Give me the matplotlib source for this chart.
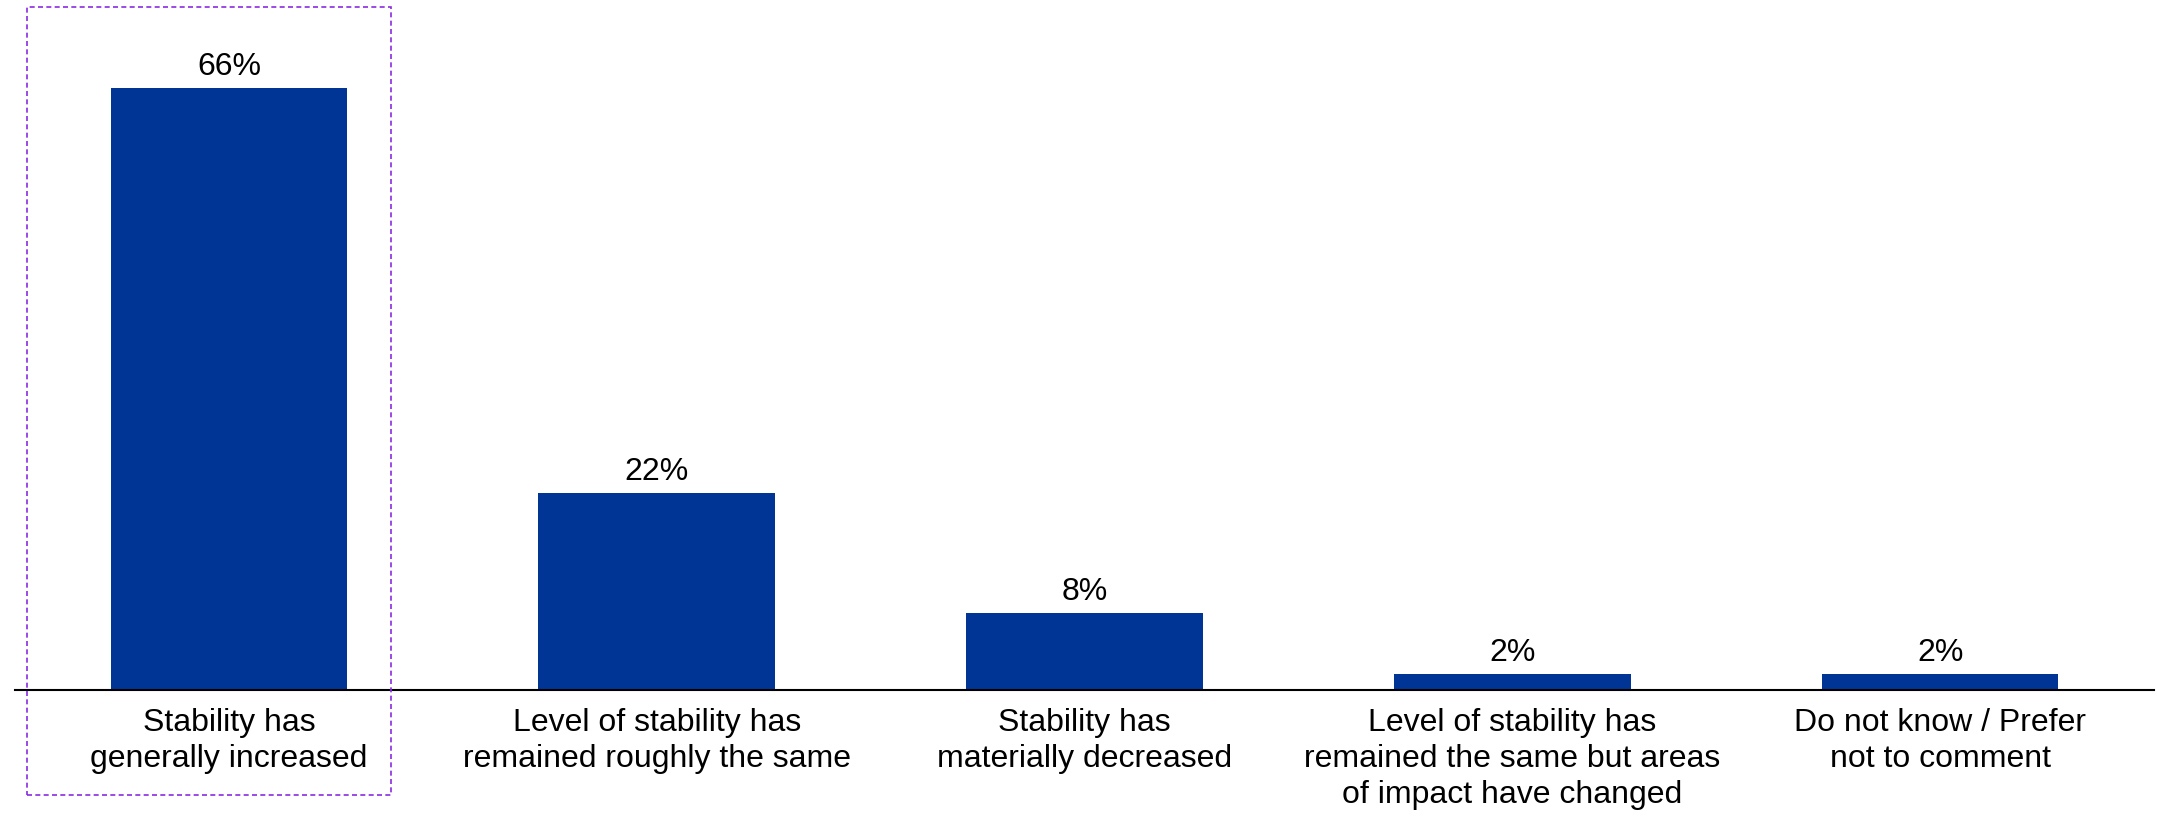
import matplotlib.pyplot as plt
from matplotlib.patches import Rectangle
from matplotlib.transforms import blended_transform_factory

categories = [
    "Stability has\ngenerally increased",
    "Level of stability has\nremained roughly the same",
    "Stability has\nmaterially decreased",
    "Level of stability has\nremained the same but areas\nof impact have changed",
    "Do not know / Prefer\nnot to comment",
]
# bar heights, labels as printed
values = [66, 21.6, 8.4, 1.8, 1.8]
value_labels = ["66%", "22%", "8%", "2%", "2%"]

plt.rcParams['font.family'] = ['Liberation Sans', 'DejaVu Sans']

fig = plt.figure(figsize=(21.57, 8.16), dpi=100)
ax = fig.add_axes([15 / 2157, 1 - 690 / 816, 2139 / 2157, 690 / 816])

x = range(len(values))
ax.bar(x, values, width=0.553, color='#003595')
for i, (v, lab) in enumerate(zip(values, value_labels)):
    ax.annotate(lab, (i, v), xytext=(0, 6), textcoords='offset pixels',
                ha='center', va='bottom', fontsize=23)

ax.set_xlim(-0.5, 4.5)
ax.set_ylim(0, 75.6)
ax.set_xticks(list(x))
ax.set_xticklabels(categories, fontsize=23, linespacing=1.25)
ax.tick_params(axis='x', length=0, pad=13)
ax.set_yticks([])
for s in ['top', 'right', 'left']:
    ax.spines[s].set_visible(False)
ax.spines['bottom'].set_linewidth(1.5)

# dashed highlight box around the first category
tr = blended_transform_factory(ax.transData, fig.transFigure)
box = Rectangle((-0.471, 1 - 795 / 816), 0.849, (795 - 7) / 816, transform=tr,
                fill=False, edgecolor='#8a2be2', linestyle=(0, (3, 2)),
                linewidth=1.2, clip_on=False)
fig.add_artist(box)

fig.savefig('out.png', dpi=100)
